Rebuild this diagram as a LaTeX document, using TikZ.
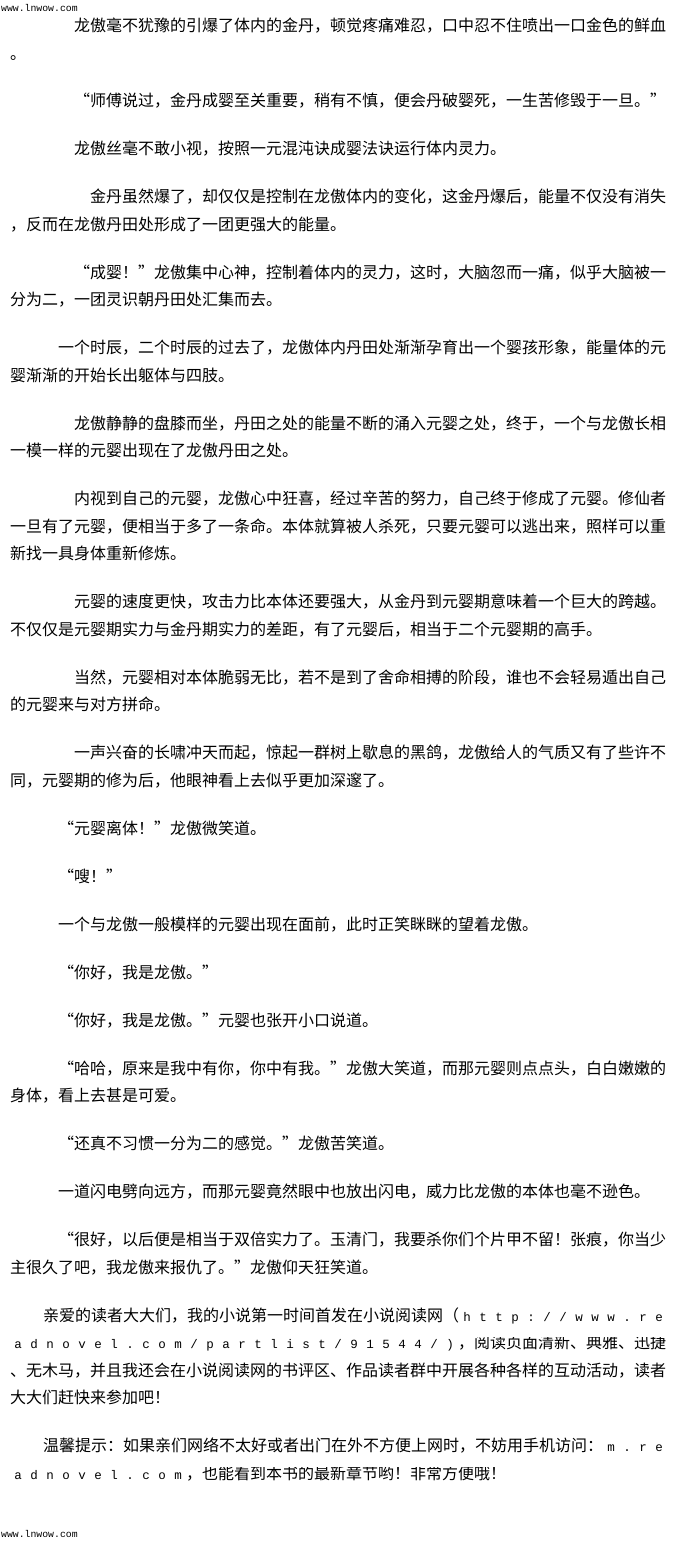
\documentclass[tikz,border=0pt]{standalone}
\usepackage{fontspec}
\setmainfont{Noto Sans CJK SC}
\newfontfamily\monof{Liberation Mono}
\newcommand\myqo{\makebox[16pt][r]{“}}
\newcommand\myqc{\makebox[16pt][c]{”}}
\newcommand\fwch[1]{\makebox[16pt][c]{\monof\fontsize{12.5}{12.5}\selectfont #1}}
\def\fwloop#1{\ifx#1\relax\else\fwch{#1}\expandafter\fwloop\fi}
\newcommand\fw[1]{\fwloop#1\relax}
\tikzset{
  txt/.style={anchor=base west, inner sep=0pt, text=black, font=\fontsize{16}{16}\selectfont},
  web/.style={anchor=base west, inner sep=0pt, text=black, font=\monof\fontsize{9.8}{9.8}\selectfont}
}
\begin{document}
\begin{tikzpicture}[x=1pt,y=-1pt]
\fill[white] (0,0) rectangle (680,1545);
\useasboundingbox (0,0) rectangle (680,1545);
\node (w1) [web] at (1,11) {www.lnwow.com};
\node (l1) [txt] at (74,31) {龙傲毫不犹豫的引爆了体内的金丹，顿觉疼痛难忍，口中忍不住喷出一口金色的鲜血};
\node (l2) [txt] at (10,59) {。};
\node (l3) [txt] at (74,106.5) {\myqo 师傅说过，金丹成婴至关重要，稍有不慎，便会丹破婴死，一生苦修毁于一旦。\myqc};
\node (l4) [txt] at (74,154.5) {龙傲丝毫不敢小视，按照一元混沌诀成婴法诀运行体内灵力。};
\node (l5) [txt] at (90,202.5) {金丹虽然爆了，却仅仅是控制在龙傲体内的变化，这金丹爆后，能量不仅没有消失};
\node (l6) [txt] at (10,230) {，反而在龙傲丹田处形成了一团更强大的能量。};
\node (l7) [txt] at (74,278) {\myqo 成婴！\myqc 龙傲集中心神，控制着体内的灵力，这时，大脑忽而一痛，似乎大脑被一};
\node (l8) [txt] at (10,305.5) {分为二，一团灵识朝丹田处汇集而去。};
\node (l9) [txt] at (58,353.5) {一个时辰，二个时辰的过去了，龙傲体内丹田处渐渐孕育出一个婴孩形象，能量体的元};
\node (l10) [txt] at (10,381) {婴渐渐的开始长出躯体与四肢。};
\node (l11) [txt] at (74,429) {龙傲静静的盘膝而坐，丹田之处的能量不断的涌入元婴之处，终于，一个与龙傲长相};
\node (l12) [txt] at (10,456.5) {一模一样的元婴出现在了龙傲丹田之处。};
\node (l13) [txt] at (74,504.5) {内视到自己的元婴，龙傲心中狂喜，经过辛苦的努力，自己终于修成了元婴。修仙者};
\node (l14) [txt] at (10,532) {一旦有了元婴，便相当于多了一条命。本体就算被人杀死，只要元婴可以逃出来，照样可以重};
\node (l15) [txt] at (10,559.5) {新找一具身体重新修炼。};
\node (l16) [txt] at (74,607.5) {元婴的速度更快，攻击力比本体还要强大，从金丹到元婴期意味着一个巨大的跨越。};
\node (l17) [txt] at (10,635) {不仅仅是元婴期实力与金丹期实力的差距，有了元婴后，相当于二个元婴期的高手。};
\node (l18) [txt] at (74,683) {当然，元婴相对本体脆弱无比，若不是到了舍命相搏的阶段，谁也不会轻易遁出自己};
\node (l19) [txt] at (10,710.5) {的元婴来与对方拼命。};
\node (l20) [txt] at (74,758.5) {一声兴奋的长啸冲天而起，惊起一群树上歇息的黑鸽，龙傲给人的气质又有了些许不};
\node (l21) [txt] at (10,786) {同，元婴期的修为后，他眼神看上去似乎更加深邃了。};
\node (l22) [txt] at (58,834) {\myqo 元婴离体！\myqc 龙傲微笑道。};
\node (l23) [txt] at (58,882) {\myqo 嗖！\myqc};
\node (l24) [txt] at (58,930) {一个与龙傲一般模样的元婴出现在面前，此时正笑眯眯的望着龙傲。};
\node (l25) [txt] at (58,978) {\myqo 你好，我是龙傲。\myqc};
\node (l26) [txt] at (58,1026) {\myqo 你好，我是龙傲。\myqc 元婴也张开小口说道。};
\node (l27) [txt] at (58,1074) {\myqo 哈哈，原来是我中有你，你中有我。\myqc 龙傲大笑道，而那元婴则点点头，白白嫩嫩的};
\node (l28) [txt] at (10,1101.5) {身体，看上去甚是可爱。};
\node (l29) [txt] at (58,1149.5) {\myqo 还真不习惯一分为二的感觉。\myqc 龙傲苦笑道。};
\node (l30) [txt] at (58,1197.5) {一道闪电劈向远方，而那元婴竟然眼中也放出闪电，威力比龙傲的本体也毫不逊色。};
\node (l31) [txt] at (58,1245.5) {\myqo 很好，以后便是相当于双倍实力了。玉清门，我要杀你们个片甲不留！张痕，你当少};
\node (l32) [txt] at (10,1273) {主很久了吧，我龙傲来报仇了。\myqc 龙傲仰天狂笑道。};
\node (l33) [txt] at (43,1321) {亲爱的读者大大们，我的小说第一时间首发在小说阅读网（\fw{http://www.re}};
\begin{scope}
\clip (0,1337) rectangle (680,1362);
\node (l34) [txt] at (10,1348.5) {\fw{adnovel.com/partlist/91544/)}，阅读页面清新、典雅、迅捷};
\end{scope}
\node (l35) [txt] at (10,1376) {、无木马，并且我还会在小说阅读网的书评区、作品读者群中开展各种各样的互动活动，读者};
\node (l36) [txt] at (10,1403.5) {大大们赶快来参加吧！};
\node (l37) [txt] at (43,1451.5) {温馨提示：如果亲们网络不太好或者出门在外不方便上网时，不妨用手机访问：\fw{m.re}};
\begin{scope}
\clip (0,1467.5) rectangle (680,1492);
\node (l38) [txt] at (10,1479) {\fw{adnovel.com}，也能看到本书的最新章节哟！非常方便哦！};
\end{scope}
\node (w2) [web] at (1,1537) {www.lnwow.com};
\end{tikzpicture}
\end{document}
